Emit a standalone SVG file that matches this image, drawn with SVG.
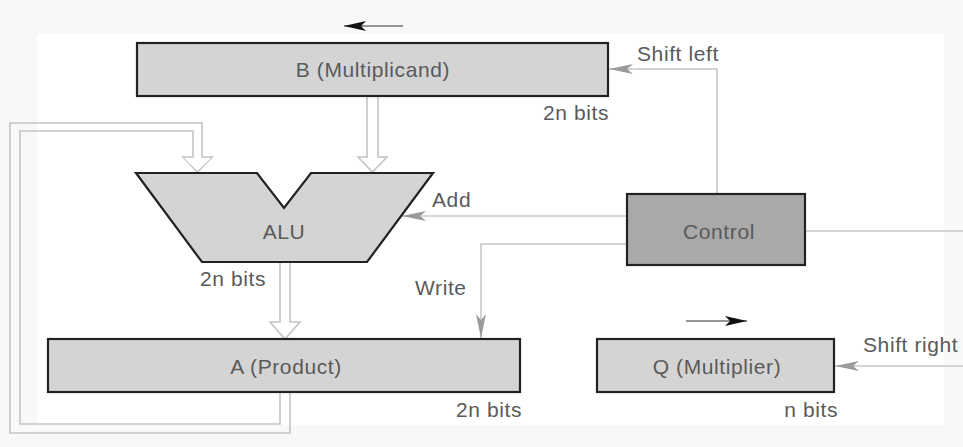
<svg xmlns="http://www.w3.org/2000/svg" width="963" height="447" viewBox="0 0 963 447">
<defs>
<style>
text{font-family:"Liberation Sans",Arial,sans-serif;font-size:21px;fill:#5a5a5a;letter-spacing:0.6px}
.box{fill:#d4d4d4;stroke:#222;stroke-width:2.2}
.ctrl{fill:#a9a9a9;stroke:#222;stroke-width:2.2}
.sig{fill:none;stroke:#c8c8c8;stroke-width:1.6}
.bus{fill:none;stroke:#c4c4c4;stroke-width:1.6}
.mid{text-anchor:middle}
.end{text-anchor:end}
</style>
<marker id="ga" viewBox="0 0 24 12" refX="24" refY="6" markerWidth="24" markerHeight="12" markerUnits="userSpaceOnUse" orient="auto">
<path d="M0,1 L24,6 L0,11 L6,6 Z" fill="#9a9a9a"/>
</marker>
<marker id="ba" viewBox="0 0 22 12" refX="22" refY="6" markerWidth="22" markerHeight="12" markerUnits="userSpaceOnUse" orient="auto">
<path d="M0,1 L22,6 L0,11 L5,6 Z" fill="#111"/>
</marker>
</defs>
<rect x="0" y="0" width="963" height="447" fill="#f8f8f8"/>
<rect x="37" y="34" width="907" height="391" fill="#fff"/>
<g id="connectors">
<path class="bus" style="fill:#fff" d="M367,97 V157 H358 L372.5,172 L387,157 H378 V97"/>
<path class="bus" style="fill:#fff" d="M280,262 V322 H270 L285,339 L300,322 H290 V262"/>
<path class="bus" d="M290,392 V433 H10 V123 H202 V157 H212 L197.5,172 L183,157 H193 V131 H20 V424 H280 V392"/>
<path d="M184,158 L197.5,171 L211,158 Z" fill="#fff" stroke="none"/>
<path class="sig" d="M717,194 V69 H609" marker-end="url(#ga)"/>
<path class="sig" d="M627,216 H402" marker-end="url(#ga)"/>
<path class="sig" d="M627,244 H481 V338" marker-end="url(#ga)"/>
<path class="sig" d="M805,231 H963"/>
<path class="sig" d="M963,366 H835" marker-end="url(#ga)"/>
<path d="M403,26 H344" stroke="#333" stroke-width="1.2" fill="none" marker-end="url(#ba)"/>
<path d="M686,321 H747" stroke="#333" stroke-width="1.2" fill="none" marker-end="url(#ba)"/>
</g>
<g id="B">
<rect class="box" x="137" y="43" width="471" height="53"/>
<text class="mid" x="373" y="77">B (Multiplicand)</text>
<text class="end" x="609" y="120">2n bits</text>
</g>
<g id="ALU">
<polygon class="box" points="136,173 257,173 284,208 311,173 433,173 367,262 202,262"/>
<text class="mid" x="284" y="239">ALU</text>
<text x="200" y="286">2n bits</text>
</g>
<g id="A">
<rect class="box" x="48" y="339" width="472" height="53"/>
<text class="mid" x="286" y="374">A (Product)</text>
<text class="end" x="522" y="417">2n bits</text>
</g>
<g id="Control">
<rect class="ctrl" x="627" y="194" width="178" height="71"/>
<text class="mid" x="719" y="239">Control</text>
</g>
<g id="Q">
<rect class="box" x="597" y="339" width="237" height="53"/>
<text class="mid" x="717" y="374">Q (Multiplier)</text>
<text class="end" x="838" y="417">n bits</text>
</g>
<g id="labels">
<text x="637" y="61">Shift left</text>
<text x="432" y="207">Add</text>
<text x="415" y="295">Write</text>
<text x="863" y="352">Shift right</text>
</g>
</svg>
